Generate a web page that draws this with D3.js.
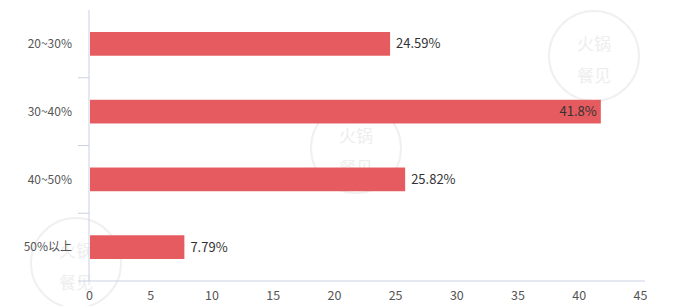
<!DOCTYPE html>
<html>
<head>
<meta charset="utf-8">
<script src="https://cdn.jsdelivr.net/npm/d3@7"></script>
<style>
    body { margin: 0; background: #fff; }
    text { font-family: "Microsoft YaHei", "Noto Sans CJK SC", sans-serif; }
</style>
</head>
<body>
<div id="chart"></div>
<script>
const categories = ["20~30%", "30~40%", "40~50%", "50%以上"];
const values = [24.59, 41.8, 25.82, 7.79];
const labels = ["24.59%", "41.8%", "25.82%", "7.79%"];
const xTicks = [0, 5, 10, 15, 20, 25, 30, 35, 40, 45];

const width = 679, height = 306;
const margin = { top: 10, right: 39, bottom: 25, left: 89 };

const svg = d3.select("#chart").append("svg")
    .attr("width", width)
    .attr("height", height);

// watermarks
const marks = [[594, 56], [356, 148], [76, 263]];
const wm = svg.append("g").attr("class", "watermark");
for (const [cx, cy] of marks) {
    wm.append("circle")
        .attr("cx", cx).attr("cy", cy).attr("r", 45)
        .attr("fill", "none")
        .attr("stroke", "#f0f0f0")
        .attr("stroke-width", 2);
    wm.append("text").attr("x", cx).attr("y", cy - 6)
        .attr("text-anchor", "middle").attr("font-size", 17)
        .attr("fill", "#eeeeee").text("火锅");
    wm.append("text").attr("x", cx).attr("y", cy + 26)
        .attr("text-anchor", "middle").attr("font-size", 17)
        .attr("fill", "#eeeeee").text("餐见");
}

const x = d3.scaleLinear()
    .domain([0, 45])
    .range([margin.left, width - margin.right]);

const y = d3.scaleBand()
    .domain(categories)
    .range([margin.top, height - margin.bottom])
    .paddingInner(0.65)
    .paddingOuter(0.325);

const axisColor = "#cdd0e3";

// y axis (category)
const yAxis = svg.append("g")
    .attr("transform", `translate(${margin.left},0)`);
yAxis.append("line")
    .attr("x1", 0).attr("x2", 0)
    .attr("y1", margin.top).attr("y2", height - margin.bottom)
    .attr("stroke", axisColor);
const boundaries = d3.range(categories.length + 1).map(i => margin.top + i * (height - margin.top - margin.bottom) / categories.length);
yAxis.selectAll(".tk").data(boundaries.slice(1)).enter().append("line")
    .attr("x1", -11).attr("x2", 0)
    .attr("y1", d => d).attr("y2", d => d)
    .attr("stroke", axisColor);
yAxis.selectAll(".lbl").data(categories).enter().append("text")
    .attr("x", -17)
    .attr("y", d => y(d) + y.bandwidth() / 2)
    .attr("dy", "0.35em")
    .attr("text-anchor", "end")
    .attr("font-size", 12)
    .attr("fill", "#555")
    .text(d => d);

// x axis
const xAxis = svg.append("g")
    .attr("transform", `translate(0,${height - margin.bottom})`)
    .call(d3.axisBottom(x).tickValues(xTicks).tickSize(0).tickPadding(10));
xAxis.select(".domain").attr("stroke", axisColor).attr("d", `M${margin.left},0H${width - margin.right + 5}`);
xAxis.selectAll("text")
    .attr("font-size", 12.5)
    .attr("fill", "#555")
    .style("font-family", '"Microsoft YaHei", "Noto Sans CJK SC", sans-serif');

// bars
svg.append("g").selectAll("rect").data(values).enter().append("rect")
    .attr("x", x(0) + 1)
    .attr("y", (d, i) => y(categories[i]))
    .attr("width", d => x(d) - x(0) - 1)
    .attr("height", y.bandwidth())
    .attr("fill", "#e65b5f");

// value labels
svg.append("g").selectAll("text").data(values).enter().append("text")
    .attr("x", d => d > 40 ? x(d) - 4 : x(d) + 6)
    .attr("y", (d, i) => y(categories[i]) + y.bandwidth() / 2)
    .attr("dy", "0.35em")
    .attr("text-anchor", d => d > 40 ? "end" : "start")
    .attr("font-size", 13)
    .attr("fill", "#333")
    .text((d, i) => labels[i]);
</script>
</body>
</html>
